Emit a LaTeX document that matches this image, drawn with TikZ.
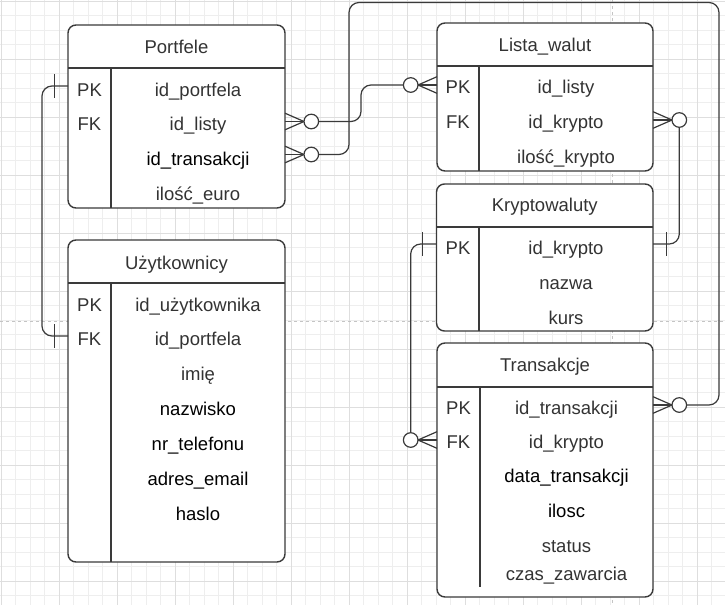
\documentclass[tikz,border=0pt]{standalone}
\usepackage{fontspec}
\setmainfont{Liberation Sans}
\definecolor{ln}{HTML}{3A3A3A}
\definecolor{txt}{HTML}{333333}
\definecolor{gminor}{HTML}{EEEEEE}
\definecolor{gmajor}{HTML}{DEDEDE}
\definecolor{pageln}{HTML}{C4C4C4}
\tikzset{
  tbl/.style={draw=ln, line width=1.4pt, fill=white, rounded corners=8pt, inner sep=0pt},
  sepln/.style={draw=ln, line width=1.4pt},
  lbl/.style={anchor=base, text=txt, font=\fontsize{18.5}{20}\selectfont, inner sep=0pt},
  blk/.style={lbl, text=black},
  conn/.style={draw=ln, line width=1.2pt, rounded corners=10pt},
  onebar/.style={draw=ln, line width=1.2pt},
}
\newcommand{\ZeroMany}[3]{%
  \draw[onebar] (#1,{#2-8.3}) -- ({#1+#3*19},#2) -- (#1,{#2+8.3});
  \draw[onebar] (#1,#2) -- ({#1+#3*19},#2);
  \draw[onebar, fill=white] ({#1+#3*26.3},#2) circle (7.3);
}
\begin{document}
\begin{tikzpicture}[x=1pt,y=-1pt]
\fill[white] (0,0) rectangle (725,605);
\useasboundingbox (0,0) rectangle (725,605);
% grid
\foreach \i in {0,...,49} {\draw[gminor, line width=0.8pt] ({1.3+14.5*\i},0) -- ({1.3+14.5*\i},605);}
\foreach \i in {0,...,41} {\draw[gminor, line width=0.8pt] (0,{1.3+14.5*\i}) -- (725,{1.3+14.5*\i});}
\foreach \i in {0,...,12} {\draw[gmajor, line width=0.8pt] ({1.3+58*\i},0) -- ({1.3+58*\i},605);}
\foreach \i in {0,...,10} {\draw[gmajor, line width=0.8pt] (0,{1.3+58*\i}) -- (725,{1.3+58*\i});}
% page break lines
\draw[pageln, line width=0.8pt, dash pattern=on 3pt off 3pt] (0,321) -- (725,321);
\draw[pageln, line width=0.8pt, dash pattern=on 3pt off 3pt] (612,0) -- (612,605);

% ---------- Portfele ----------
\node[tbl, minimum width=217pt, minimum height=183pt] (portfele) at (176.5,116.5) {};
\draw[sepln] (68,68) -- (285,68);
\draw[sepln] (111,68) -- (111,208);
\node[lbl] (portfele-h) at (176.5,53.3) {Portfele};
\node[lbl] (portfele-k1) at (89.5,96) {PK};
\node[lbl] (portfele-k2) at (89.5,130.5) {FK};
\node[lbl] (portfele-f1) at (198,96) {id\_portfela};
\node[lbl] (portfele-f2) at (198,130.5) {id\_listy};
\node[blk] (portfele-f3) at (198,165) {id\_transakcji};
\node[lbl] (portfele-f4) at (198,200) {ilość\_euro};

% ---------- Uzytkownicy ----------
\node[tbl, minimum width=217pt, minimum height=322pt] (uzyt) at (176.5,401) {};
\draw[sepln] (68,283) -- (285,283);
\draw[sepln] (111,283) -- (111,562);
\node[lbl] (uzyt-h) at (176.5,269) {Użytkownicy};
\node[lbl] (uzyt-k1) at (89.5,311) {PK};
\node[lbl] (uzyt-k2) at (89.5,345) {FK};
\node[lbl] (uzyt-f1) at (198,311) {id\_użytkownika};
\node[lbl] (uzyt-f2) at (198,345) {id\_portfela};
\node[lbl] (uzyt-f3) at (198,380) {imię};
\node[blk] (uzyt-f4) at (198,415) {nazwisko};
\node[blk] (uzyt-f5) at (198,450) {nr\_telefonu};
\node[blk] (uzyt-f6) at (198,485) {adres\_email};
\node[blk] (uzyt-f7) at (198,520) {haslo};

% ---------- Lista_walut ----------
\node[tbl, minimum width=216pt, minimum height=148pt] (lista) at (545,97) {};
\draw[sepln] (437,66) -- (653,66);
\draw[sepln] (479,66) -- (479,171);
\node[lbl] (lista-h) at (545,51) {Lista\_walut};
\node[lbl] (lista-k1) at (458,93.3) {PK};
\node[lbl] (lista-k2) at (458,128.3) {FK};
\node[lbl] (lista-f1) at (566,93.3) {id\_listy};
\node[lbl] (lista-f2) at (566,128.3) {id\_krypto};
\node[lbl] (lista-f3) at (566,163) {ilość\_krypto};

% ---------- Kryptowaluty ----------
\node[tbl, minimum width=216.5pt, minimum height=147pt] (krypto) at (544.75,257.5) {};
\draw[sepln] (436.5,227) -- (653,227);
\draw[sepln] (479,227) -- (479,331);
\node[lbl] (krypto-h) at (544.75,211.7) {Kryptowaluty};
\node[lbl] (krypto-k1) at (458,254) {PK};
\node[lbl] (krypto-f1) at (566,254) {id\_krypto};
\node[lbl] (krypto-f2) at (566,289) {nazwa};
\node[lbl] (krypto-f3) at (566,324) {kurs};

% ---------- Transakcje ----------
\node[tbl, minimum width=216pt, minimum height=254pt] (trans) at (545,470) {};
\draw[sepln] (437,387) -- (653,387);
\draw[sepln] (480,387) -- (480,587);
\node[lbl] (trans-h) at (545,371.7) {Transakcje};
\node[lbl] (trans-k1) at (458.5,414) {PK};
\node[lbl] (trans-k2) at (458.5,448.3) {FK};
\node[lbl] (trans-f1) at (566.5,414) {id\_transakcji};
\node[lbl] (trans-f2) at (566.5,448.3) {id\_krypto};
\node[blk] (trans-f3) at (566.5,482.5) {data\_transakcji};
\node[blk] (trans-f4) at (566.5,517) {ilosc};
\node[lbl] (trans-f5) at (566.5,552) {status};
\node[lbl] (trans-f6) at (566.5,580) {czas\_zawarcia};

% ---------- connector end points ----------
\coordinate (pPK) at (68,86);
\coordinate (uFK) at (68,336);
\coordinate (pListy) at (318.6,121.5);
\coordinate (lPK) at (403.4,85);
\coordinate (pTrans) at (318.6,154.5);
\coordinate (tPK) at (687,405);
\coordinate (lFK) at (679.3,127.3);
\coordinate (kPKr) at (653,244);
\coordinate (kPKl) at (436.5,244);
\coordinate (tFK) at (410.7,432.7);

% 1: Portfele PK -- Uzytkownicy FK
\draw[conn] (pPK) -- (42,86) -- (42,336) -- (uFK);
\draw[onebar] (54.3,74) -- (54.3,98);
\draw[onebar] (54.3,324) -- (54.3,348);

% 2: Portfele id_listy -- Lista_walut PK
\draw[conn] (pListy) -- (361,121.5) -- (361,85) -- (lPK);
\ZeroMany{285}{121.5}{1}
\ZeroMany{437}{85}{-1}

% 3: Portfele id_transakcji -- Transakcje PK
\draw[conn] (pTrans) -- (349,154.5) -- (349,2.5) -- (719,2.5) -- (719,405) -- (tPK);
\ZeroMany{285}{154.5}{1}
\ZeroMany{653}{405}{1}

% 4: Lista_walut FK -- Kryptowaluty PK
\draw[conn] (lFK) -- (679.3,244) -- (kPKr);
\ZeroMany{653}{120}{1}
\draw[onebar] (666.7,232) -- (666.7,256);

% 5: Kryptowaluty PK -- Transakcje FK
\draw[conn] (kPKl) -- (410.7,244) -- (tFK);
\draw[onebar] (422.7,232) -- (422.7,256);
\ZeroMany{437}{440}{-1}
\end{tikzpicture}
\end{document}
